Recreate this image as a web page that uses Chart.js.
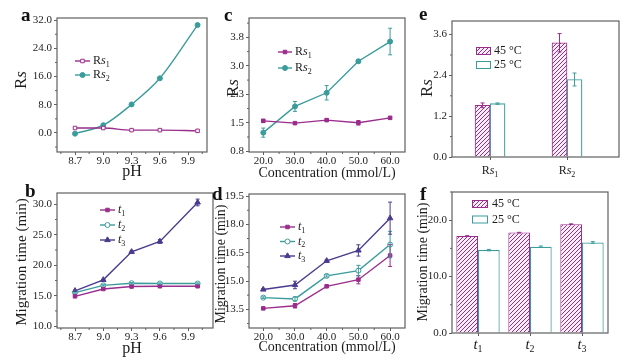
<!DOCTYPE html>
<html>
<head>
<meta charset="utf-8">
<script src="https://cdn.jsdelivr.net/npm/chart.js@4"></script>
<style>
html, body { margin: 0; padding: 0; background: #fff; }
#wrap { position: relative; width: 627px; height: 360px; overflow: hidden; background: #fff; }
#wrap canvas { position: absolute; left: 0; top: 0; }
.tag { position: absolute; font-family: "Liberation Serif", serif; font-size: 19px; font-weight: bold; line-height: 1; color: #111; }
</style>
</head>
<body>
<div id="wrap">
  <canvas id="chartA" width="627" height="360"></canvas>
  <canvas id="chartB" width="627" height="360"></canvas>
  <canvas id="chartC" width="627" height="360"></canvas>
  <canvas id="chartD" width="627" height="360"></canvas>
  <canvas id="chartE" width="627" height="360"></canvas>
  <canvas id="chartF" width="627" height="360"></canvas>
  <div class="tag" style="left:21px;top:5px">a</div>
  <div class="tag" style="left:25px;top:181px">b</div>
  <div class="tag" style="left:224px;top:5px">c</div>
  <div class="tag" style="left:212px;top:184px">d</div>
  <div class="tag" style="left:419px;top:4px">e</div>
  <div class="tag" style="left:420px;top:184px">f</div>
</div>
<script>
var pageW = 627, pageH = 360;
var purple = '#9b2d8c';
var teal = '#3c9c9c';
var indigo = '#4b3b8e';
var frame = '#606060';
var ink = '#1c1c1c';
var serif = '"Liberation Serif", "DejaVu Serif", serif';

// a, b: pH series
var phLevels = [8.7, 9.0, 9.3, 9.6, 10.0];
var phTicks = [8.7, 9.0, 9.3, 9.6, 9.9];
var rs1ByPh = [1.4, 1.4, 0.8, 0.8, 0.6];
var rs2ByPh = [-0.2, 2.2, 8.1, 15.5, 30.6];
var rsPhTicks = [0, 8, 16, 24, 32];

var t1ByPh = [14.9, 16.1, 16.5, 16.55, 16.55];
var t1ByPhErr = [0.1, 0.1, 0.1, 0.1, 0.1];
var t2ByPh = [15.5, 16.7, 17.05, 17.0, 17.0];
var t2ByPhErr = [0.1, 0.1, 0.1, 0.1, 0.1];
var t3ByPh = [15.8, 17.6, 22.2, 23.9, 30.3];
var t3ByPhErr = [0.1, 0.1, 0.15, 0.3, 0.55];
var timePhTicks = [10, 15, 20, 25, 30];

// c, d: buffer concentration series
var concLevels = [20, 30, 40, 50, 60];
var concTicks = [20, 30, 40, 50, 60];
var rs1ByConc = [1.55, 1.49, 1.57, 1.50, 1.63];
var rs1ByConcErr = [0.04, 0.03, 0.03, 0.06, 0.03];
var rs2ByConc = [1.24, 1.93, 2.29, 3.12, 3.64];
var rs2ByConcErr = [0.12, 0.13, 0.19, 0.04, 0.35];
var rsConcTicks = [0.75, 1.5, 2.25, 3.0, 3.75];

var t1ByConc = [13.55, 13.69, 14.72, 15.07, 16.35];
var t1ByConcErr = [0.04, 0.12, 0.05, 0.22, 0.58];
var t2ByConc = [14.12, 14.05, 15.27, 15.55, 16.93];
var t2ByConcErr = [0.04, 0.1, 0.06, 0.28, 0.7];
var t3ByConc = [14.55, 14.79, 16.07, 16.62, 18.33];
var t3ByConcErr = [0.04, 0.2, 0.05, 0.3, 0.85];
var timeConcTicks = [13.5, 15.0, 16.5, 18.0, 19.5];

// e, f: temperature bars
var rsNames = ['R*s*_1', 'R*s*_2'];
var rsPos = [1, 2];
var rsAt45 = [1.52, 3.36];
var rsAt45Err = [0.07, 0.27];
var rsAt25 = [1.57, 2.28];
var rsAt25Err = [0.02, 0.19];
var rsTempTicks = [0, 1.2, 2.4, 3.6];

var peakNames = ['*t*_1', '*t*_2', '*t*_3'];
var timeAt45 = [17.2, 17.8, 19.3];
var timeAt45Err = [0.05, 0.05, 0.05];
var timeAt25 = [14.7, 15.3, 16.05];
var timeAt25Err = [0.12, 0.12, 0.15];
var timeTempTicks = [0, 10, 20];

// plot boxes in page pixels
var boxA = {l: 57, t: 18, r: 207, b: 152};
var boxB = {l: 57, t: 193, r: 213, b: 328};
var boxC = {l: 249, t: 18, r: 405, b: 152};
var boxD = {l: 249, t: 194, r: 405, b: 328};
var boxE = {l: 452, t: 21, r: 619, b: 157};
var boxF = {l: 452, t: 192, r: 608, b: 333};

// text extras per canvas (titles, legend placement)
var decor = {
  chartA: {
    titles: [{s: 'R*s*', x: 22, y: 80, size: 17, rot: true}, {s: 'pH', x: 132, y: 172, size: 16}],
    legend: {x1: 75, x2: 90, tx: 93, y0: 61, dy: 14, size: 12}, minorX: true
  },
  chartB: {
    titles: [{s: 'Migration time (min)', x: 22, y: 262, size: 15, rot: true}, {s: 'pH', x: 132, y: 349, size: 16}],
    legend: {x1: 100, x2: 115, tx: 118, y0: 210, dy: 15, size: 12}, minorX: true
  },
  chartC: {
    titles: [{s: 'R*s*', x: 234, y: 88, size: 17, rot: true}, {s: 'Concentration (mmol/L)', x: 327, y: 173, size: 14}],
    legend: {x1: 278, x2: 292, tx: 295, y0: 52, dy: 16, size: 12}, minorX: true
  },
  chartD: {
    titles: [{s: 'Migration time (min)', x: 221, y: 264, size: 14, rot: true}, {s: 'Concentration (mmol/L)', x: 327, y: 347, size: 14}],
    legend: {x1: 280, x2: 295, tx: 298, y0: 227, dy: 14.5, size: 12}, minorX: true
  },
  chartE: {
    titles: [{s: 'R*s*', x: 428, y: 88, size: 17, rot: true}],
    legend: {x1: 476, x2: 491, tx: 494, y0: 51, dy: 14, size: 12, box: true},
    xLabels: {names: rsNames, y: 171, size: 12}
  },
  chartF: {
    titles: [{s: 'Migration time (min)', x: 423, y: 262, size: 14, rot: true}],
    legend: {x1: 472, x2: 488, tx: 492, y0: 204, dy: 15.5, size: 12, box: true},
    xLabels: {names: peakNames, y: 345, size: 15}
  }
};

// 'R*s*_1' -> R, italic s, subscript 1
function parts(s) {
  var out = [], it = false, i = 0;
  while (i < s.length) {
    var c = s[i];
    if (c === '*') { it = !it; i++; continue; }
    if (c === '_') { out.push({t: s[i + 1], it: false, sub: true}); i += 2; continue; }
    var last = out[out.length - 1];
    if (last && !last.sub && last.it === it) last.t += c;
    else out.push({t: c, it: it, sub: false});
    i++;
  }
  return out;
}

function fontFor(p, size) {
  return (p.it ? 'italic ' : '') + (p.sub ? Math.round(size * 0.68) : size) + 'px ' + serif;
}

function drawRich(ctx, s, x, y, size, rot, alignLeft) {
  var ps = parts(s), w = 0;
  ctx.save();
  ps.forEach(function (p) { ctx.font = fontFor(p, size); p.w = ctx.measureText(p.t).width; w += p.w; });
  ctx.translate(x, y);
  if (rot) ctx.rotate(-Math.PI / 2);
  ctx.textBaseline = 'middle';
  ctx.textAlign = 'left';
  ctx.fillStyle = ink;
  var cx = alignLeft ? 0 : -w / 2;
  ps.forEach(function (p) {
    ctx.font = fontFor(p, size);
    ctx.fillText(p.t, cx, p.sub ? size * 0.3 : 0);
    cx += p.w;
  });
  ctx.restore();
}

function hatch(color) {
  var c = document.createElement('canvas');
  c.width = 4; c.height = 4;
  var g = c.getContext('2d');
  g.fillStyle = '#f7eff6';
  g.fillRect(0, 0, 4, 4);
  g.strokeStyle = color;
  g.lineWidth = 1;
  g.beginPath();
  g.moveTo(0, 4); g.lineTo(4, 0);
  g.moveTo(-1, 1); g.lineTo(1, -1);
  g.moveTo(3, 5); g.lineTo(5, 3);
  g.stroke();
  return g.createPattern(c, 'repeat');
}
var hatchPurple = hatch(purple);

var decorPlugin = {
  id: 'decor',
  afterDatasetsDraw: function (chart) {
    var ctx = chart.ctx, ys = chart.scales.y;
    // error bars
    chart.data.datasets.forEach(function (ds, i) {
      if (!ds.errorBars) return;
      var meta = chart.getDatasetMeta(i);
      ctx.save();
      ctx.strokeStyle = ds.borderColor;
      ctx.lineWidth = 1;
      meta.data.forEach(function (el, j) {
        var v = ds.data[j].y !== undefined ? ds.data[j].y : ds.data[j];
        var e = ds.errorBars[j];
        var top = ys.getPixelForValue(v + e), bot = ys.getPixelForValue(v - e);
        ctx.beginPath();
        ctx.moveTo(el.x, top); ctx.lineTo(el.x, bot);
        ctx.moveTo(el.x - 2, top); ctx.lineTo(el.x + 2, top);
        ctx.moveTo(el.x - 2, bot); ctx.lineTo(el.x + 2, bot);
        ctx.stroke();
      });
      ctx.restore();
    });
  },
  afterDraw: function (chart) {
    var ctx = chart.ctx, a = chart.chartArea, d = decor[chart.canvas.id];
    var xs = chart.scales.x, ys = chart.scales.y;
    ctx.save();
    ctx.strokeStyle = frame;
    ctx.lineWidth = 1.2;
    ctx.strokeRect(a.left, a.top, a.right - a.left, a.bottom - a.top);
    // minor ticks
    ctx.lineWidth = 1;
    ctx.beginPath();
    var yt = ys.ticks.map(function (t) { return t.value; });
    var ystep = yt[1] - yt[0];
    for (var v = yt[0] - ystep / 2; v <= ys.max; v += ystep) {
      if (v < ys.min) continue;
      var py = ys.getPixelForValue(v);
      ctx.moveTo(a.left, py); ctx.lineTo(a.left - 2, py);
    }
    if (d.minorX) {
      var xt = xs.ticks.map(function (t) { return t.value; });
      var xstep = xt[1] - xt[0];
      for (var u = xt[0] - xstep / 2; u <= xs.max; u += xstep) {
        if (u < xs.min) continue;
        var px = xs.getPixelForValue(u);
        ctx.moveTo(px, a.bottom); ctx.lineTo(px, a.bottom + 2);
      }
    }
    ctx.stroke();
    ctx.restore();

    d.titles.forEach(function (t) { drawRich(ctx, t.s, t.x, t.y, t.size, t.rot, false); });

    if (d.xLabels) {
      d.xLabels.names.forEach(function (n, i) {
        var px = xs.type === 'category' ? xs.getPixelForValue(i) : xs.getPixelForValue(rsPos[i]);
        drawRich(ctx, n, px, d.xLabels.y, d.xLabels.size, false, false);
      });
    }

    var L = d.legend;
    chart.data.datasets.forEach(function (ds, i) {
      var y = L.y0 + i * L.dy;
      ctx.save();
      if (L.box) {
        ctx.fillStyle = ds.backgroundColor;
        ctx.fillRect(L.x1, y - 3.5, L.x2 - L.x1, 7);
        ctx.strokeStyle = ds.borderColor;
        ctx.lineWidth = 1;
        ctx.strokeRect(L.x1 + 0.5, y - 3.5, L.x2 - L.x1 - 1, 7);
      } else {
        ctx.strokeStyle = ds.borderColor;
        ctx.lineWidth = ds.borderWidth;
        ctx.beginPath();
        ctx.moveTo(L.x1, y); ctx.lineTo(L.x2, y);
        ctx.stroke();
        ctx.fillStyle = ds.pointBackgroundColor;
        ctx.lineWidth = 1;
        Chart.helpers.drawPoint(ctx, {pointStyle: ds.pointStyle, radius: ds.pointRadius, borderWidth: 1, rotation: 0}, (L.x1 + L.x2) / 2, y);
      }
      ctx.restore();
      drawRich(ctx, ds.label, L.tx, y, L.size, false, true);
    });
  }
};
Chart.register(decorPlugin);

function linearAxis(cfg, isX, box) {
  var a = {
    type: 'linear',
    min: cfg.min,
    max: cfg.max,
    offset: false,
    border: {display: false},
    grid: {display: true, offset: false, drawOnChartArea: false, drawTicks: true, tickLength: 3, color: frame, lineWidth: 1},
    ticks: {
      display: cfg.labels !== false,
      font: {family: serif, size: 11},
      color: ink,
      padding: isX ? 0 : 2,
      autoSkip: false,
      maxRotation: 0,
      callback: function (v) { return v.toFixed(cfg.dec); }
    },
    afterBuildTicks: function (s) {
      s.ticks = cfg.ticks.map(function (v) { return {value: v}; });
    }
  };
  if (isX) a.afterFit = function (s) { s.height = pageH - box.b; };
  else a.afterFit = function (s) { s.width = box.l; };
  return a;
}

function baseOptions(box, scales) {
  return {
    responsive: false,
    animation: false,
    events: [],
    layout: {padding: {left: 0, top: box.t, right: pageW - box.r, bottom: 0}},
    plugins: {legend: {display: false}, tooltip: {enabled: false}},
    scales: scales
  };
}

function lineSet(label, xs, ys, err, color, style, open, smooth) {
  return {
    label: label,
    data: xs.map(function (x, i) { return {x: x, y: ys[i]}; }),
    errorBars: err,
    borderColor: color,
    backgroundColor: color,
    borderWidth: 1.4,
    pointStyle: style,
    pointRadius: style === 'triangle' ? 3.2 : 2.5,
    pointBackgroundColor: open ? '#ffffff' : color,
    pointBorderColor: color,
    pointBorderWidth: 1,
    tension: smooth ? 0.4 : 0,
    cubicInterpolationMode: smooth ? 'monotone' : 'default'
  };
}

// a
new Chart(document.getElementById('chartA'), {
  type: 'line',
  data: {datasets: [
    lineSet('R*s*_1', phLevels, rs1ByPh, null, purple, 'rect', true, true),
    lineSet('R*s*_2', phLevels, rs2ByPh, null, teal, 'circle', false, true)
  ]},
  options: baseOptions(boxA, {
    x: linearAxis({min: 8.509, max: 10.1, ticks: phTicks, dec: 1}, true, boxA),
    y: linearAxis({min: -5.4, max: 32.6, ticks: rsPhTicks, dec: 1}, false, boxA)
  })
});

// b
new Chart(document.getElementById('chartB'), {
  type: 'line',
  data: {datasets: [
    lineSet('*t*_1', phLevels, t1ByPh, t1ByPhErr, purple, 'rect', false, false),
    lineSet('*t*_2', phLevels, t2ByPh, t2ByPhErr, teal, 'circle', true, false),
    lineSet('*t*_3', phLevels, t3ByPh, t3ByPhErr, indigo, 'triangle', false, false)
  ]},
  options: baseOptions(boxB, {
    x: linearAxis({min: 8.509, max: 10.163, ticks: phTicks, dec: 1}, true, boxB),
    y: linearAxis({min: 9.7, max: 31.85, ticks: timePhTicks, dec: 1}, false, boxB)
  })
});

// c
new Chart(document.getElementById('chartC'), {
  type: 'line',
  data: {datasets: [
    lineSet('R*s*_1', concLevels, rs1ByConc, rs1ByConcErr, purple, 'rect', false, false),
    lineSet('R*s*_2', concLevels, rs2ByConc, rs2ByConcErr, teal, 'circle', false, false)
  ]},
  options: baseOptions(boxC, {
    x: linearAxis({min: 15.5, max: 64.7, ticks: concTicks, dec: 1}, true, boxC),
    y: linearAxis({min: 0.73, max: 4.26, ticks: rsConcTicks, dec: 1}, false, boxC)
  })
});

// d
new Chart(document.getElementById('chartD'), {
  type: 'line',
  data: {datasets: [
    lineSet('*t*_1', concLevels, t1ByConc, t1ByConcErr, purple, 'rect', false, false),
    lineSet('*t*_2', concLevels, t2ByConc, t2ByConcErr, teal, 'circle', true, false),
    lineSet('*t*_3', concLevels, t3ByConc, t3ByConcErr, indigo, 'triangle', false, false)
  ]},
  options: baseOptions(boxD, {
    x: linearAxis({min: 15.5, max: 64.7, ticks: concTicks, dec: 1}, true, boxD),
    y: linearAxis({min: 12.51, max: 19.61, ticks: timeConcTicks, dec: 1}, false, boxD)
  })
});

// e
new Chart(document.getElementById('chartE'), {
  type: 'bar',
  data: {datasets: [
    {label: '45 °C', data: rsPos.map(function (x, i) { return {x: x, y: rsAt45[i]}; }), errorBars: rsAt45Err,
      backgroundColor: hatchPurple, borderColor: purple, borderWidth: 1, barThickness: 15},
    {label: '25 °C', data: rsPos.map(function (x, i) { return {x: x, y: rsAt25[i]}; }), errorBars: rsAt25Err,
      backgroundColor: '#ffffff', borderColor: teal, borderWidth: 1.2, barThickness: 15}
  ]},
  options: baseOptions(boxE, {
    x: linearAxis({min: 0.506, max: 2.675, ticks: rsPos, dec: 0, labels: false}, true, boxE),
    y: linearAxis({min: 0, max: 4.0, ticks: rsTempTicks, dec: 1}, false, boxE)
  })
});

// f
var fx = {
  type: 'category',
  offset: true,
  border: {display: false},
  grid: {display: true, offset: false, drawOnChartArea: false, tickLength: 3, color: frame},
  ticks: {display: false},
  afterFit: function (s) { s.height = pageH - boxF.b; }
};
new Chart(document.getElementById('chartF'), {
  type: 'bar',
  data: {
    labels: peakNames,
    datasets: [
      {label: '45 °C', data: timeAt45, errorBars: timeAt45Err, backgroundColor: hatchPurple, borderColor: purple,
        borderWidth: 1, categoryPercentage: 0.834, barPercentage: 1},
      {label: '25 °C', data: timeAt25, errorBars: timeAt25Err, backgroundColor: '#ffffff', borderColor: teal,
        borderWidth: 1.2, categoryPercentage: 0.834, barPercentage: 1}
    ]
  },
  options: baseOptions(boxF, {
    x: fx,
    y: linearAxis({min: 0, max: 25, ticks: timeTempTicks, dec: 1}, false, boxF)
  })
});
</script>
</body>
</html>
